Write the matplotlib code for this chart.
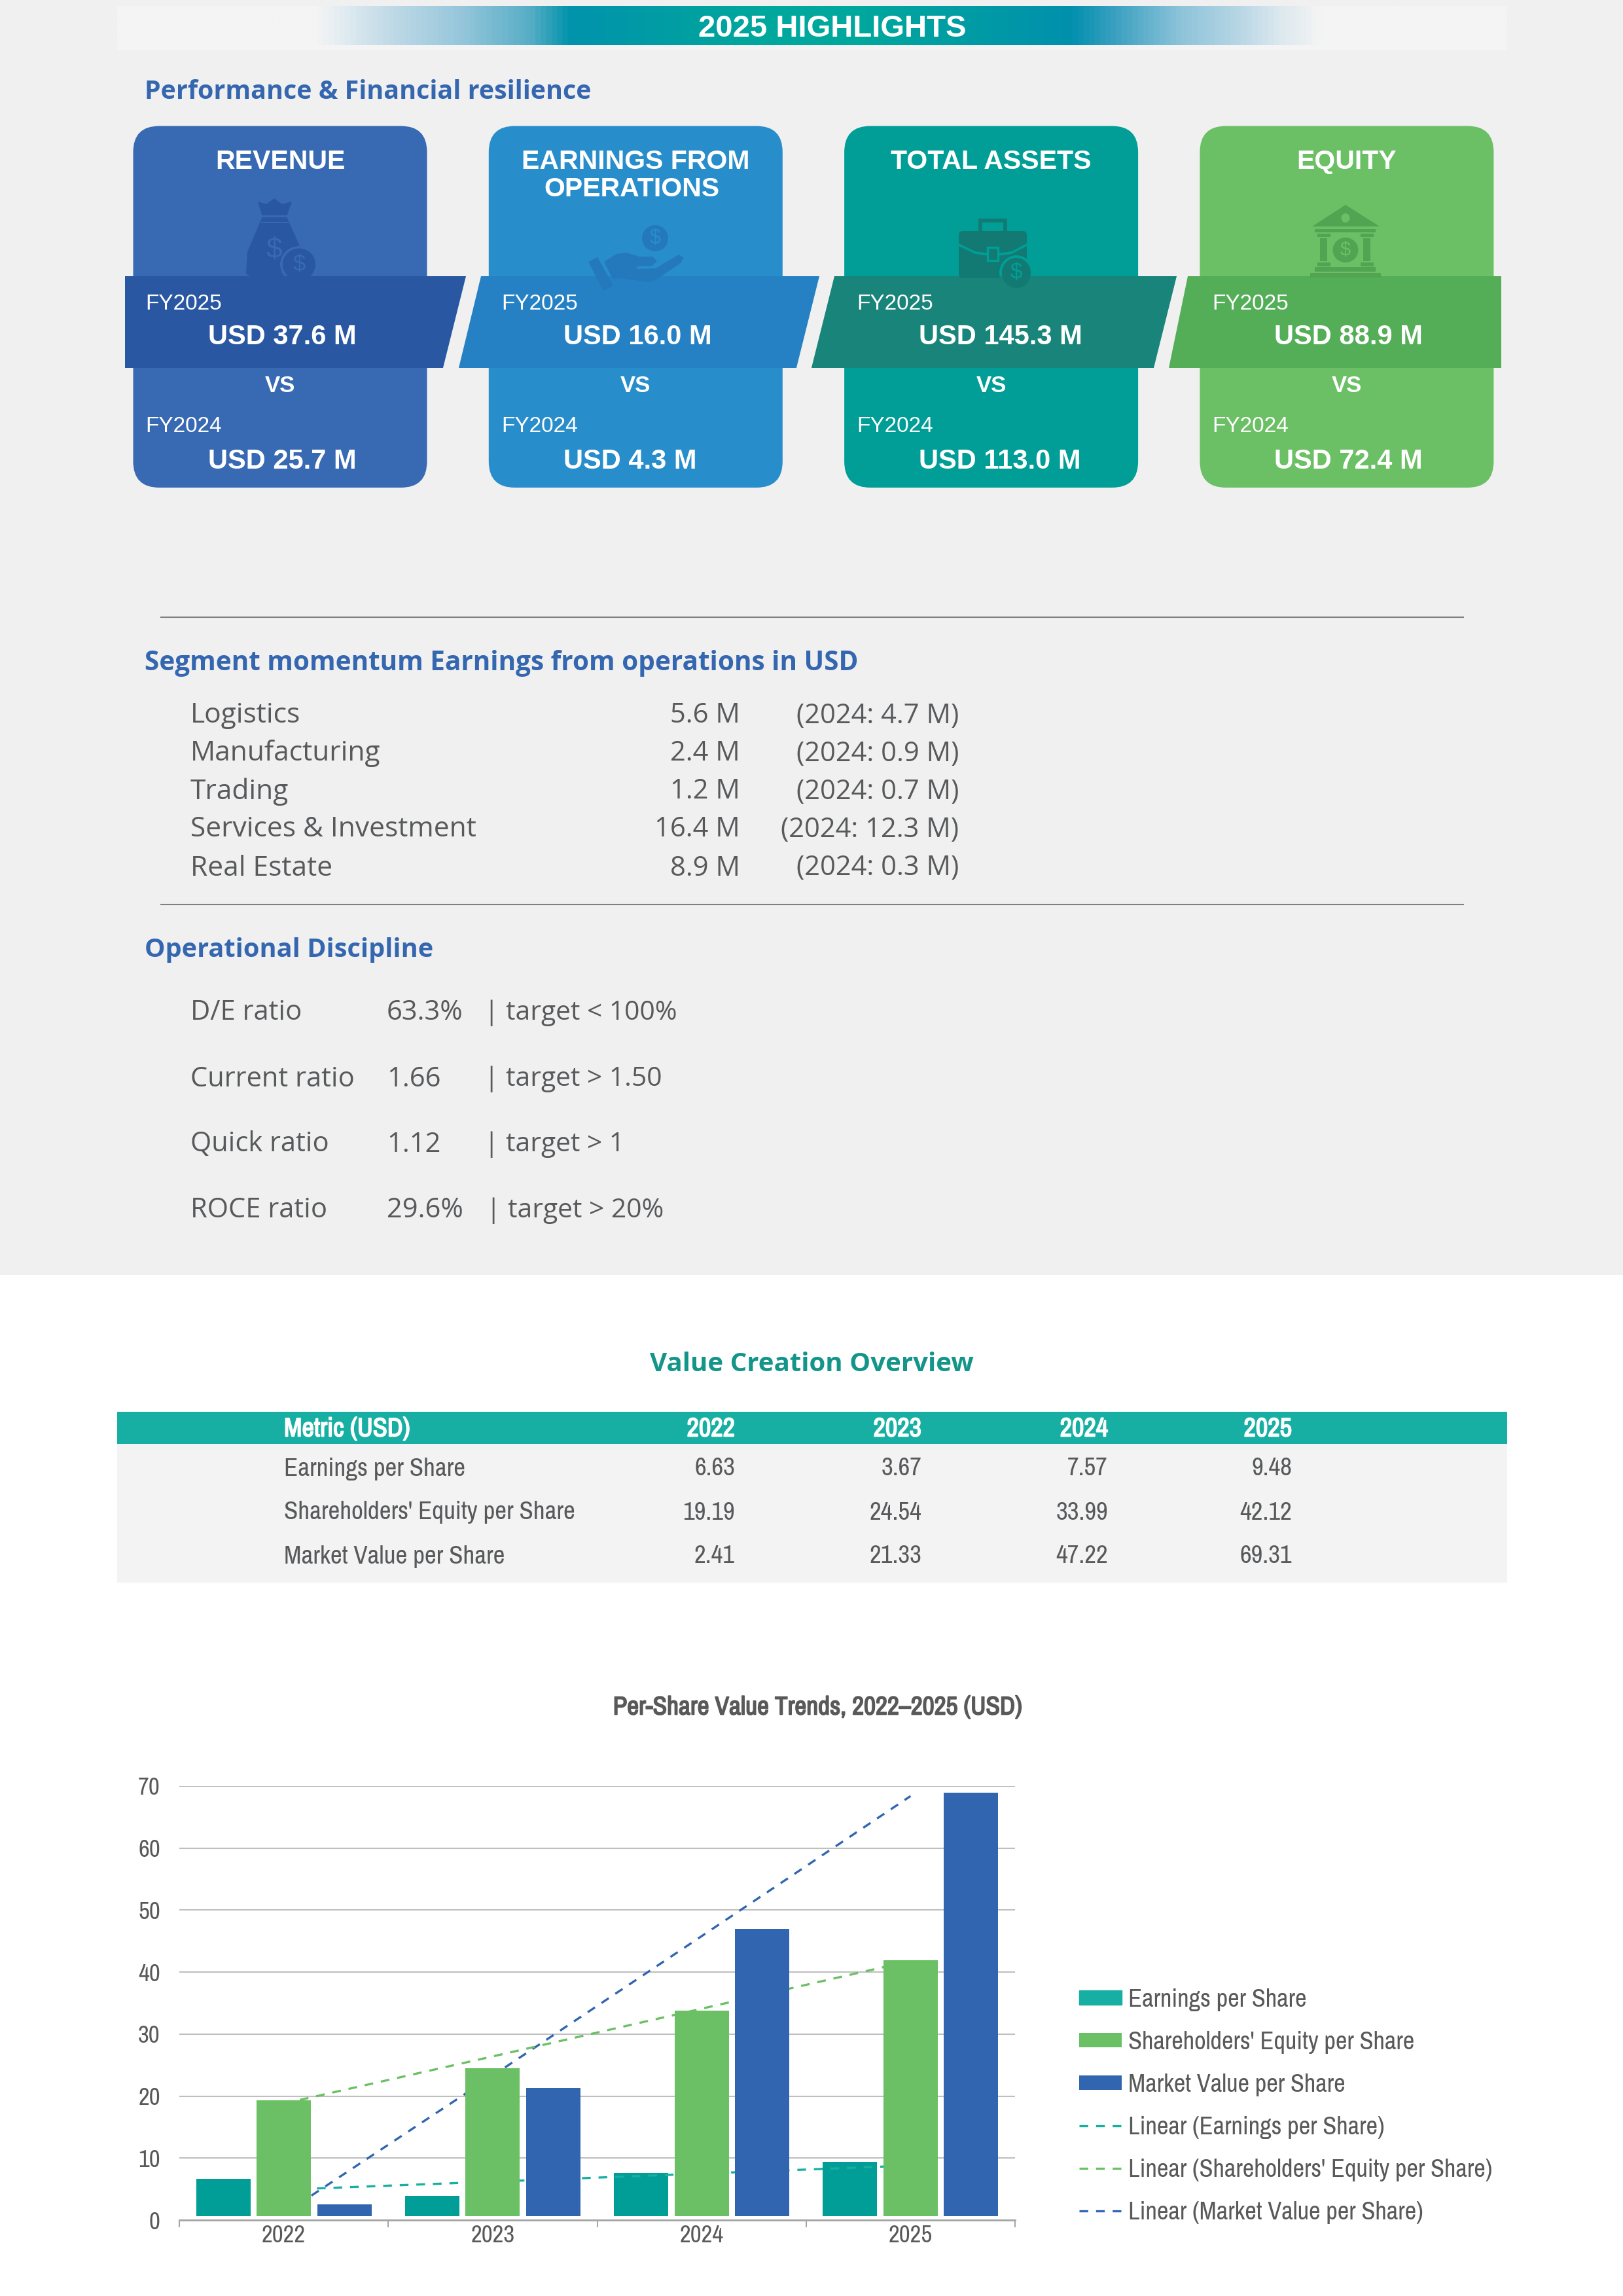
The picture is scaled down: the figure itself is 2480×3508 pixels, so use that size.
import matplotlib
matplotlib.use("Agg")
import matplotlib.pyplot as plt
import matplotlib.patheffects as pe
import numpy as np
from matplotlib.colors import LinearSegmentedColormap
from matplotlib.patches import Ellipse, FancyBboxPatch, Polygon, Rectangle

# ----- data -----
card_titles = [["REVENUE"], ["EARNINGS FROM", "OPERATIONS"], ["TOTAL ASSETS"], ["EQUITY"]]
card_fy25 = ["USD 37.6 M", "USD 16.0 M", "USD 145.3 M", "USD 88.9 M"]
card_fy24 = ["USD 25.7 M", "USD 4.3 M", "USD 113.0 M", "USD 72.4 M"]

segments = ["Logistics", "Manufacturing", "Trading", "Services & Investment", "Real Estate"]
segment_now = ["5.6 M", "2.4 M", "1.2 M", "16.4 M", "8.9 M"]
segment_prev = ["(2024: 4.7 M)", "(2024: 0.9 M)", "(2024: 0.7 M)", "(2024: 12.3 M)", "(2024: 0.3 M)"]

ratios = ["D/E ratio", "Current ratio", "Quick ratio", "ROCE ratio"]
ratio_vals = ["63.3%", "1.66", "1.12", "29.6%"]
ratio_targets = ["| target < 100%", "| target > 1.50", "| target > 1", "| target > 20%"]

years = ["2022", "2023", "2024", "2025"]
table_head = ["Metric (USD)"] + years
table_rows = ["Earnings per Share", "Shareholders' Equity per Share", "Market Value per Share"]
table_eps = ["6.63", "3.67", "7.57", "9.48"]
table_equity = ["19.19", "24.54", "33.99", "42.12"]
table_market = ["2.41", "21.33", "47.22", "69.31"]

# bar heights and trend lines
eps = [6.7, 3.87, 7.55, 9.35]
equity = [19.35, 24.5, 33.8, 41.9]
market = [2.5, 21.3, 47.0, 68.9]
eps_trend = [4.9, 6.2, 7.5, 8.8]
equity_trend = [18.8, 26.4, 34.1, 41.8]
market_trend = [1.0, 23.3, 45.8, 68.4]

# ----- colours and fonts -----
BLUE = "#3869B3"
TEAL = "#009E96"
TEAL_L = "#17AFA3"
GREEN = "#6BBF64"
GREY_TXT = "#58595B"
HEAD_BLUE = "#3567B0"

card_colors = [BLUE, "#288DCB", TEAL, GREEN]
band_colors = ["#2957A1", "#2581C3", "#18847A", "#54AE58"]
icon_colors = ["#2957A1", "#2478BC", "#127A72", "#50A452"]

BODY = ["Open Sans", "DejaVu Sans"]
CARD = ["Liberation Sans", "DejaVu Sans"]
NARROW = ["Archivo Narrow", "Liberation Sans Narrow", "Liberation Sans", "DejaVu Sans"]

fig = plt.figure(figsize=(24.8, 35.08), dpi=100, facecolor="white")
page = fig.add_axes([0, 0, 1, 1])
page.set_xlim(0, 2480)
page.set_ylim(3508, 0)
page.axis("off")


def label(x, y, s, size, color=GREY_TXT, weight="normal", ha="left", family=BODY, z=10, dy=4.5, thick=0):
    t = page.text(x, y + dy, s, fontsize=size, color=color, fontweight=weight, ha=ha, va="center",
                  family=family, zorder=z)
    if thick:
        # the narrow face has no bold cut here, so thicken it
        t.set_path_effects([pe.withStroke(linewidth=thick, foreground=color)])


# grey upper panel
page.add_patch(Rectangle((0, 0), 2480, 1948, fc="#F0F0F0", ec="none", zorder=0))

# header band with gradient
page.add_patch(Rectangle((179, 9), 2124, 68, fc="#F4F4F4", ec="none", zorder=1))
stops = [(0.0, "#F4F4F4"), (0.142, "#F4F4F4"), (0.159, "#E3EDF2"), (0.1935, "#C2DBE7"), (0.245, "#97C7DC"),
         (0.297, "#56ADC5"), (0.325, "#0093AC"), (0.46, "#00A79D"), (0.54, "#00A79D"),
         (0.687, "#0090AD"), (0.718, "#3AA0C1"), (0.766, "#8DC3D9"), (0.805, "#B4D5E4"),
         (0.838, "#DCE8EF"), (0.867, "#F4F4F4"), (1.0, "#F4F4F4")]
header_cmap = LinearSegmentedColormap.from_list("header", stops)
page.imshow(np.linspace(0, 1, 1024).reshape(1, -1), extent=(179, 2303, 69, 9), cmap=header_cmap,
            aspect="auto", zorder=2)
page.set_xlim(0, 2480)
page.set_ylim(3508, 0)
label(1272, 39, "2025 HIGHLIGHTS", 34, "white", "bold", "center", CARD)

label(221, 136, "Performance & Financial resilience", 28.4, HEAD_BLUE, "bold")


# ----- card icons (coordinates in page pixels) -----
def draw_icon(i, col, bg, clip=None):
    parts = []
    if i == 0:
        parts.append(Polygon([(394, 308), (407, 312), (419, 303), (431, 312), (446, 308), (438, 331),
                              (441, 338), (462, 385), (458, 418), (440, 424), (385, 424), (376, 418),
                              (378, 385), (398, 338), (401, 331)], fc=col, ec="none"))
        parts.append(Rectangle((399, 329), 42, 3, fc=bg, ec="none"))
        parts.append(Rectangle((399, 339), 42, 2, fc=bg, ec="none"))
        parts.append(Ellipse((457, 404), 58, 56, fc=bg, ec="none"))
        parts.append(Ellipse((457, 404), 50, 49, fc=col, ec="none"))
    elif i == 1:
        parts.append(Ellipse((1001, 364), 40, 40, fc=col, ec="none"))
        parts.append(Polygon([(899, 400), (913, 393), (937, 436), (922, 444)], fc=col, ec="none"))
        parts.append(Polygon([(923, 400), (942, 388), (957, 386), (977, 392), (997, 392), (1004, 399), (997, 406),
                              (975, 407), (972, 409), (975, 411), (1002, 410), (1037, 389), (1045, 394),
                              (1040, 402), (1003, 427), (990, 431), (963, 427), (947, 425), (936, 426)],
                             fc=col, ec="none"))
    elif i == 2:
        parts.append(Rectangle((1498, 337), 38, 20, fc="none", ec=col, lw=4))
        parts.append(FancyBboxPatch((1468, 356), 98, 66, boxstyle="round,pad=3,rounding_size=6",
                                    fc=col, ec="none"))
        parts.append(Polygon([(1465, 372), (1490, 384), (1518, 388), (1546, 384), (1569, 372), (1569, 376),
                              (1546, 388), (1518, 392), (1490, 388), (1465, 376)], fc=bg, ec="none"))
        parts.append(Rectangle((1509, 378), 16, 20, fc=col, ec=bg, lw=2.5))
        parts.append(Ellipse((1553, 417), 52, 54, fc=bg, ec="none"))
        parts.append(Ellipse((1553, 417), 44, 46, fc=col, ec="none"))
    else:
        parts.append(Polygon([(2056, 313), (2108, 346), (2005, 346)], fc=col, ec="none"))
        parts.append(Ellipse((2056, 333), 13, 14, fc=bg, ec="none"))
        for box in [(2009, 350, 93, 5), (2013, 357, 20, 5), (2079, 357, 20, 5), (2017, 364, 11, 35),
                    (2083, 364, 11, 35), (2013, 401, 20, 6), (2079, 401, 20, 6), (2009, 408, 93, 7),
                    (2002, 417, 108, 7)]:
            parts.append(Rectangle(box[:2], box[2], box[3], fc=col, ec="none"))
        parts.append(Ellipse((2056, 382), 39, 38, fc=col, ec="none"))
    for p in parts:
        p.set_zorder(4 if clip is None else 5.5)
        page.add_patch(p)
        if clip is not None:
            p.set_clip_path(clip)


band_shapes = [
    [(191, 422), (712, 422), (677, 562), (191, 562)],
    [(735, 422), (1252, 422), (1217, 562), (701, 562)],
    [(1275, 422), (1798, 422), (1763, 562), (1240, 562)],
    [(1815, 422), (2294, 422), (2294, 562), (1786, 562)],
]
# (x, y, size, card) of the dollar signs on the icons
dollar_spots = [(419, 383, 32, 0), (457, 404, 25, 0), (1001, 364, 22, 1), (1553, 417, 24, 2), (2056, 382, 21, 3)]

card_w = 449
for i in range(4):
    left = 203.5 + i * 543.3
    centre = left + card_w / 2
    page.add_patch(FancyBboxPatch((left + 40, 192.5 + 40), card_w - 80, 552.5 - 80,
                                  boxstyle="round,pad=40,rounding_size=40",
                                  fc=card_colors[i], ec="none", zorder=3))
    draw_icon(i, icon_colors[i], card_colors[i])
    band = Polygon(band_shapes[i], fc=band_colors[i], ec="none", zorder=5)
    page.add_patch(band)
    # parts of the icon show faintly through the band
    draw_icon(i, icon_colors[i], band_colors[i], clip=band)

    title = card_titles[i]
    label(centre, 242, title[0], 29.5, "white", "bold", "center", CARD)
    if len(title) > 1:
        label(centre - 6, 284, title[1], 29.5, "white", "bold", "center", CARD)

    label(left + 19, 460, "FY2025", 24, "white", "normal", "left", CARD)
    label(left + 114, 511, card_fy25[i], 30, "white", "bold", "left", CARD)
    label(centre, 585, "VS", 25, "white", "bold", "center", CARD)
    label(left + 19, 647, "FY2024", 24, "white", "normal", "left", CARD)
    label(left + 114, 700, card_fy24[i], 30, "white", "bold", "left", CARD)

for px, py, s, c in dollar_spots:
    page.text(px, py, "$", fontsize=s, color=card_colors[c], ha="center", va="center",
              family=CARD, zorder=6)

# ----- segment momentum -----
page.plot([246, 2236], [943, 943], color="#808080", lw=1.5, zorder=2)
label(221, 1009, "Segment momentum Earnings from operations in USD", 29.2, HEAD_BLUE, "bold")
seg_rows = [1089, 1147, 1205, 1263, 1322]
for y, name, now, prev in zip(seg_rows, segments, segment_now, segment_prev):
    label(291, y, name, 30.6)
    label(1131, y, now, 30, ha="right")
    label(1465, y, prev, 30, ha="right")
page.plot([246, 2236], [1382, 1382], color="#808080", lw=1.5, zorder=2)

# ----- operational discipline -----
label(221, 1447, "Operational Discipline", 28.6, HEAD_BLUE, "bold")
ratio_rows = [1543, 1644, 1744, 1845]
for y, name, val, target in zip(ratio_rows, ratios, ratio_vals, ratio_targets):
    label(291, y, name, 30)
    label(591, y, val, 30)
    label(740 if name != "ROCE ratio" else 743, y, target, 29.3)

# ----- value creation table -----
label(1240, 2080, "Value Creation Overview", 29, "#14958A", "bold", "center")
page.add_patch(Rectangle((179, 2157), 2124, 49, fc=TEAL_L, ec="none", zorder=2))
page.add_patch(Rectangle((179, 2206), 2124, 212, fc="#F3F3F3", ec="none", zorder=2))
col_right = [1123, 1408, 1693, 1974]
label(434, 2183, table_head[0], 29, "white", "bold", family=NARROW, dy=0, thick=1.2)
for x, h in zip(col_right, table_head[1:]):
    label(x, 2183, h, 29, "white", "bold", "right", NARROW, dy=0, thick=1.2)
for y, name, vals in zip([2244, 2311, 2378], table_rows, [table_eps, table_equity, table_market]):
    label(434, y, name, 28, family=NARROW, dy=0)
    for x, v in zip(col_right, vals):
        label(x, y, v, 28, ha="right", family=NARROW, dy=0)

label(1250, 2609, "Per-Share Value Trends, 2022\u20132025 (USD)", 28.3, "#595959", "bold", "center", NARROW,
      dy=0, thick=1.2)

# ----- bar chart -----
ax_l, ax_r, ax_t, ax_b = 274, 1551, 2729, 3392
ax = fig.add_axes([ax_l / 2480, 1 - ax_b / 3508, (ax_r - ax_l) / 2480, (ax_b - ax_t) / 3508])
ax.set_facecolor("none")
x = np.arange(4)
bar_w = 0.26
step = 0.29
base = 0.6  # bars float a few pixels above the axis line in the original
dash = (0, (4, 3.6))

line_m, = ax.plot(x, market_trend, color="#3165B0", lw=2.4, ls=dash, zorder=2,
                  label="Linear (Market Value per Share)")
line_q, = ax.plot(x, equity_trend, color=GREEN, lw=2.4, ls=dash, zorder=2,
                  label="Linear (Shareholders' Equity per Share)")
bars_e = ax.bar(x - step, np.array(eps) - base, bar_w, bottom=base, color=TEAL, zorder=3,
                label="Earnings per Share")
line_e, = ax.plot(x, eps_trend, color=TEAL_L, lw=2.4, ls=dash, zorder=3.5,
                  label="Linear (Earnings per Share)")
bars_q = ax.bar(x, np.array(equity) - base, bar_w, bottom=base, color=GREEN, zorder=4,
                label="Shareholders' Equity per Share")
bars_m = ax.bar(x + step, np.array(market) - base, bar_w, bottom=base, color="#3165B0", zorder=4,
                label="Market Value per Share")

ax.set_xlim(-0.5, 3.5)
ax.set_ylim(0, 70)
ax.set_yticks(range(0, 71, 10))
ax.set_xticks(np.arange(-0.5, 4, 1))
ax.set_xticklabels([])
ax.set_xticks(x, years, minor=True)
ax.tick_params(axis="x", which="major", length=8, width=1.5, color="#A6A6A6")
ax.tick_params(axis="x", which="minor", length=0, pad=5, labelsize=26.5, labelcolor="#595959")
ax.tick_params(axis="y", length=0, pad=21, labelsize=26.5, labelcolor="#595959")
for t in ax.get_xticklabels(minor=True) + ax.get_yticklabels():
    t.set_family(NARROW)
ax.grid(axis="y", color="#BFBFBF", lw=1.5, zorder=1)
ax.set_axisbelow(True)
for side in ["top", "left", "right"]:
    ax.spines[side].set_visible(False)
ax.spines["bottom"].set_color("#A6A6A6")
ax.spines["bottom"].set_linewidth(2)

handles = [bars_e, bars_q, bars_m, line_e, line_q, line_m]
leg = ax.legend(handles=handles, loc="upper left",
                bbox_to_anchor=(1614 / 2480, 1 - 3003 / 3508), bbox_transform=fig.transFigure,
                frameon=False, prop={"family": NARROW, "size": 27.7}, labelcolor="#595959",
                handlelength=1.69, handleheight=0.5, handletextpad=0.27, labelspacing=0.78)
leg.legend_handles[0].set_color(TEAL_L)

fig.savefig("out.png", dpi=100)
